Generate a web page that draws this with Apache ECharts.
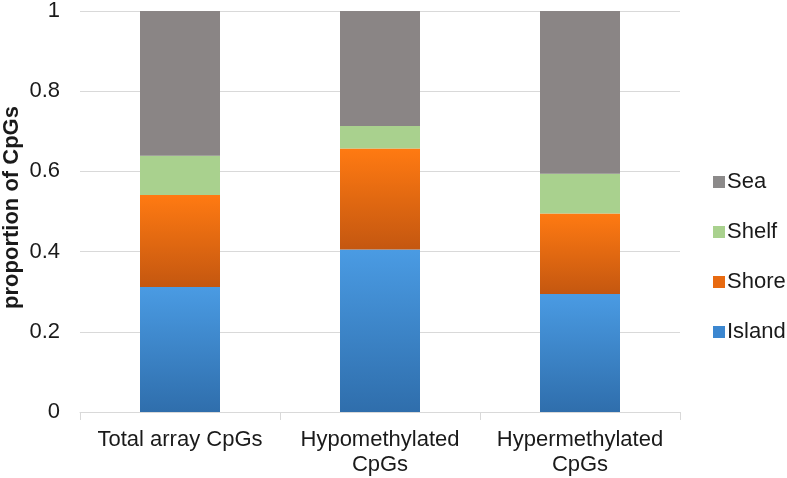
<!DOCTYPE html>
<html><head><meta charset="utf-8">
<script src="https://cdn.jsdelivr.net/npm/echarts@6/dist/echarts.min.js"></script>
<style>html,body{margin:0;padding:0;background:#fff}#c{width:787px;height:478px}</style>
</head><body><div id="c"></div>
<script>
var categories = ['Total array CpGs', 'Hypomethylated\nCpGs', 'Hypermethylated\nCpGs'];
var island = [0.312, 0.405, 0.294];
var shore = [0.229, 0.252, 0.201];
var shelf = [0.098, 0.056, 0.099];
var sea = [0.361, 0.287, 0.406];
var yTicks = [0, 0.2, 0.4, 0.6, 0.8, 1];

function grad(top, bottom) {
  return new echarts.graphic.LinearGradient(0, 0, 0, 1, [{offset: 0, color: top}, {offset: 1, color: bottom}]);
}
var chart = echarts.init(document.getElementById('c'));
var font = 'Liberation Sans, Arial, sans-serif';
function ser(name, data, color) {
  return {
    name: name, type: 'bar', stack: 'all', data: data, barWidth: '40%',
    itemStyle: {color: color}, emphasis: {disabled: true}
  };
}
chart.setOption({
  animation: false,
  textStyle: {fontFamily: font},
  grid: {left: 80, right: 107, top: 11, bottom: 66, containLabel: false, outerBoundsMode: 'none'},
  legend: {
    orient: 'vertical', left: 708, top: 166, itemGap: 28, itemWidth: 12, itemHeight: 12,
    icon: 'rect',
    data: [
      {name: 'Sea', itemStyle: {color: '#8c8a8a'}},
      {name: 'Shelf', itemStyle: {color: '#a9d18e'}},
      {name: 'Shore', itemStyle: {color: '#e86a10'}},
      {name: 'Island', itemStyle: {color: '#3c87d0'}}
    ],
    textStyle: {fontSize: 22, color: '#1a1a1a', fontFamily: font, padding: [0, 0, 0, -3]}
  },
  xAxis: {
    type: 'category', data: categories,
    axisLine: {lineStyle: {color: '#d9d9d9', width: 1}},
    axisTick: {show: true, length: 8, lineStyle: {color: '#d9d9d9'}},
    axisLabel: {fontSize: 22, color: '#1a1a1a', margin: 15, lineHeight: 25, fontFamily: font,
      interval: 0, hideOverlap: false}
  },
  yAxis: {
    type: 'value', min: 0, max: 1, interval: 0.2,
    name: 'proportion of CpGs', nameLocation: 'middle', nameGap: 57, nameRotate: 90,
    nameMoveOverlap: false,
    nameTextStyle: {fontSize: 22, fontWeight: 'bold', color: '#1a1a1a', fontFamily: font, padding: [0, 0, 0, 8]},
    axisLine: {show: false}, axisTick: {show: false},
    splitLine: {lineStyle: {color: '#d9d9d9', width: 1}},
    axisLabel: {fontSize: 22, color: '#1a1a1a', margin: 20, fontFamily: font,
      formatter: function (v) { var i = yTicks.indexOf(Math.round(v * 10) / 10); return i >= 0 ? String(yTicks[i]) : ''; }}
  },
  series: [
    ser('Island', island, grad('#4a9be3', '#2f6eac')),
    ser('Shore', shore, grad('#ff7a12', '#c45710')),
    ser('Shelf', shelf, '#a9d18e'),
    ser('Sea', sea, '#8a8585')
  ]
});
</script></body></html>
